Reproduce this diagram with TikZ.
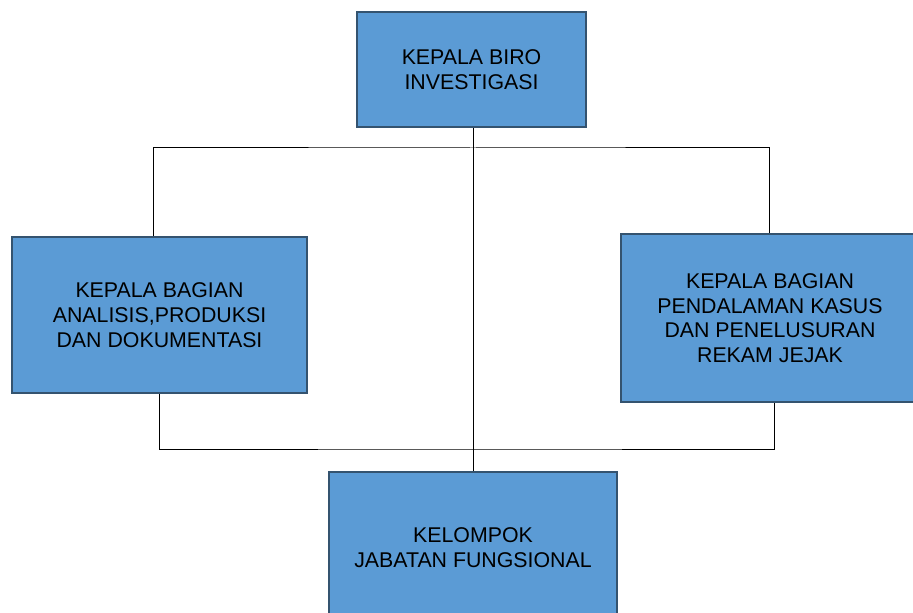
\documentclass[tikz,border=0pt]{standalone}
\usepackage{fontspec}
\setmainfont{Liberation Sans}
\definecolor{boxfill}{HTML}{5B9BD5}
\definecolor{boxline}{HTML}{34536F}
\begin{document}
\begin{tikzpicture}[x=0.75pt, y=-0.75pt,
    unit/.style={rectangle, draw=boxline, fill=boxfill, line width=1.5pt,
      align=center, inner sep=0pt, font=\fontsize{16}{18.5}\selectfont},
    link/.style={draw=black, line width=0.75pt}]
    \clip (0,0) rectangle (913,613);

    % Head of the bureau, top middle
    \node[unit, minimum width=171.75pt, minimum height=86.25pt] (biro) at (471.5,69.5)
      {KEPALA BIRO\\INVESTIGASI};

    % Two division heads: left and right
    \node[unit, minimum width=221.25pt, minimum height=117pt] (analisis) at (159.5,315)
      {KEPALA BAGIAN\\ANALISIS,PRODUKSI\\DAN DOKUMENTASI};
    \node[unit, minimum width=223.5pt, minimum height=126pt] (kasus) at (770,318)
      {KEPALA BAGIAN\\PENDALAMAN KASUS\\DAN PENELUSURAN\\REKAM JEJAK};

    % Functional group, bottom middle
    \node[unit, minimum width=216pt, minimum height=113.25pt] (fungsional) at (473,547.5)
      {KELOMPOK\\JABATAN FUNGSIONAL};

    % Bus lines
    \coordinate (topbus) at (473,148);
    \coordinate (lowbus) at (473,449);
    \draw[link] (biro.south -| fungsional.north) -- (fungsional.north);
    \draw[link] (analisis.north -| 153,0) |- (topbus) -| (kasus.north -| 769,0);
    \draw[link] (analisis.south) |- (lowbus) -| (kasus.south -| 774,0);
\end{tikzpicture}
\end{document}
